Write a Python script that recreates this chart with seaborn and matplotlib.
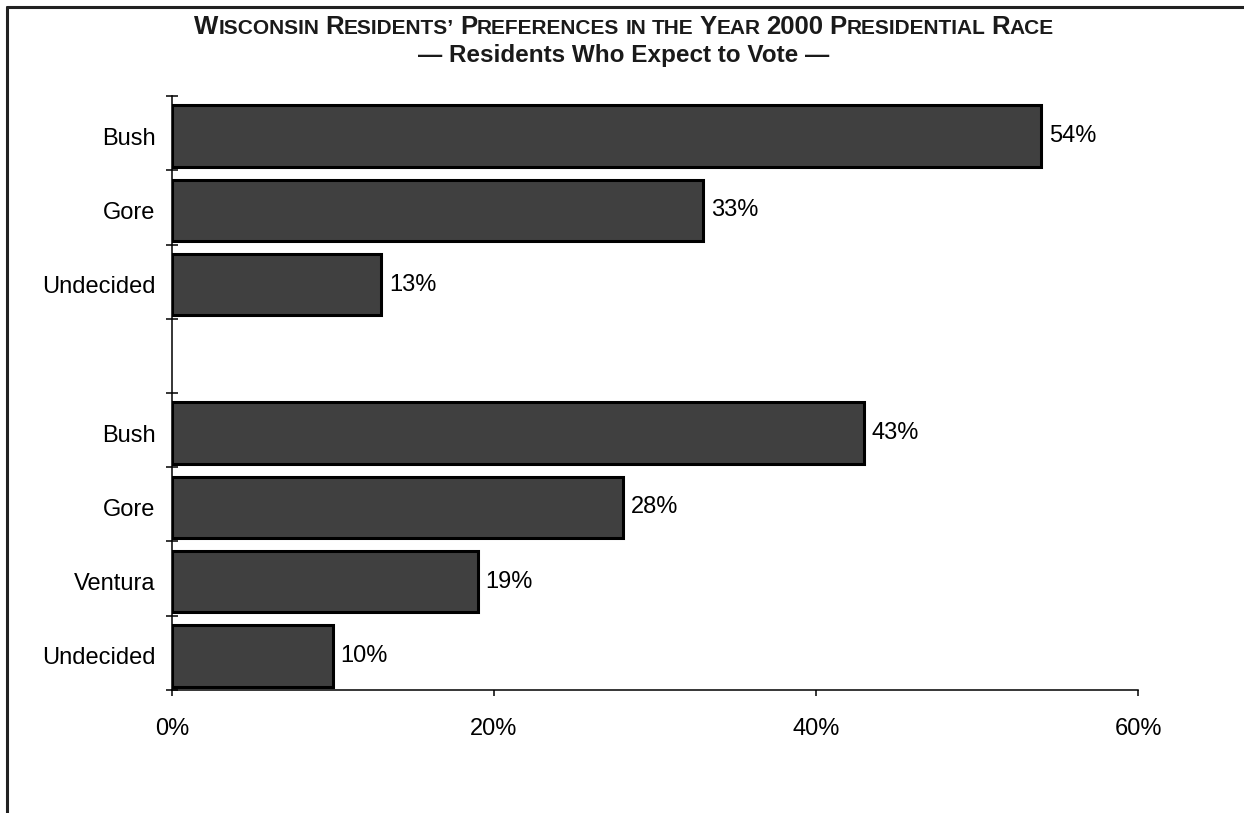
import numpy as np
import pandas as pd
import matplotlib
matplotlib.use("Agg")
import matplotlib.pyplot as plt
from matplotlib.lines import Line2D
import seaborn as sns

# Data (two polls: two-way race and three-way race)
slots = ["Bush_a", "Gore_a", "Undecided_a", "gap", "Bush_b", "Gore_b", "Ventura_b", "Undecided_b"]
slot_labels = ["Bush", "Gore", "Undecided", "", "Bush", "Gore", "Ventura", "Undecided"]
bar_slots = ["Bush_a", "Gore_a", "Undecided_a", "Bush_b", "Gore_b", "Ventura_b", "Undecided_b"]
pct = [54, 33, 13, 43, 28, 19, 10]
x_ticks = [0, 20, 40, 60]

df = pd.DataFrame({"slot": bar_slots, "pct": pct})

sns.set_style("ticks")
plt.rcParams["font.family"] = ["Liberation Sans", "DejaVu Sans"]
plt.rcParams["text.color"] = "black"
plt.rcParams["xtick.labelcolor"] = "black"
plt.rcParams["ytick.labelcolor"] = "black"

fig = plt.figure(figsize=(12.44, 8.13), dpi=100)
ax = fig.add_axes([0.1383, 0.1513, 0.7765, 0.7306])

sns.barplot(data=df, x="pct", y="slot", order=slots, orient="h",
            color="#404040", saturation=1, edgecolor="black",
            linewidth=2.2, width=0.83, ax=ax)

ax.bar_label(ax.containers[0], fmt="{:.0f}%", padding=5.5, fontsize=17, color="black")

# bars sit slightly below the centre of their slot, as in the original
shift = 0.04
ax.set_xlim(0, 60)
ax.set_ylim(len(slots) - 0.5 - shift, -0.5 - shift)
ax.set_xticks(x_ticks)
ax.set_xticklabels([f"{t}%" for t in x_ticks], fontsize=17)
ax.set_yticks(range(len(slots)))
ax.set_yticklabels(slot_labels, fontsize=17)
ax.set_yticks(np.arange(-0.5, len(slots), 1) - shift, minor=True)
ax.tick_params(axis="y", which="major", length=0, pad=12)
ax.tick_params(axis="y", which="minor", direction="inout", length=8, width=1.1, color="black")
ax.tick_params(axis="x", which="major", direction="out", length=4, width=1.1, pad=16, color="black")
ax.set_xlabel("")
ax.set_ylabel("")
sns.despine(ax=ax)
for s in ["left", "bottom"]:
    ax.spines[s].set_linewidth(1.1)
    ax.spines[s].set_color("black")

# Title in small caps, built from pieces
big, small = 18.5, 15
words = [
    [("W", big), ("ISCONSIN", small)],
    [("R", big), ("ESIDENTS\u2019", small)],
    [("P", big), ("REFERENCES", small)],
    [("IN", small)],
    [("THE", small)],
    [("Y", big), ("EAR", small)],
    [("2000", big)],
    [("P", big), ("RESIDENTIAL", small)],
    [("R", big), ("ACE", small)],
]
W, H = fig.get_size_inches() * fig.dpi
renderer = fig.canvas.get_renderer()
space = 0.278 * small * fig.dpi / 72
items = []
total = 0
for i, word in enumerate(words):
    if i > 0:
        total += space
    for s, sz in word:
        t = fig.text(0, 1 - 34 / H, s, fontsize=sz, fontweight="bold",
                     va="baseline", ha="left", color="#1a1a1a")
        w = t.get_window_extent(renderer).width
        items.append((t, total))
        total += w
x0 = (W - total) / 2 + 2
for t, off in items:
    t.set_x((x0 + off) / W)

fig.text(0.5017, 1 - 62 / H, "\u2014 Residents Who Expect to Vote \u2014",
         fontsize=17.5, fontweight="bold", ha="center", va="baseline", color="#1a1a1a")

# Frame lines on the left and top
fig.add_artist(Line2D([7.5 / W, 7.5 / W], [0, 1 - 7.5 / H], transform=fig.transFigure,
                      color="#222222", linewidth=2.2))
fig.add_artist(Line2D([7.5 / W, 1], [1 - 7.5 / H, 1 - 7.5 / H], transform=fig.transFigure,
                      color="#222222", linewidth=2.2))

fig.savefig("out.png", dpi=100)
